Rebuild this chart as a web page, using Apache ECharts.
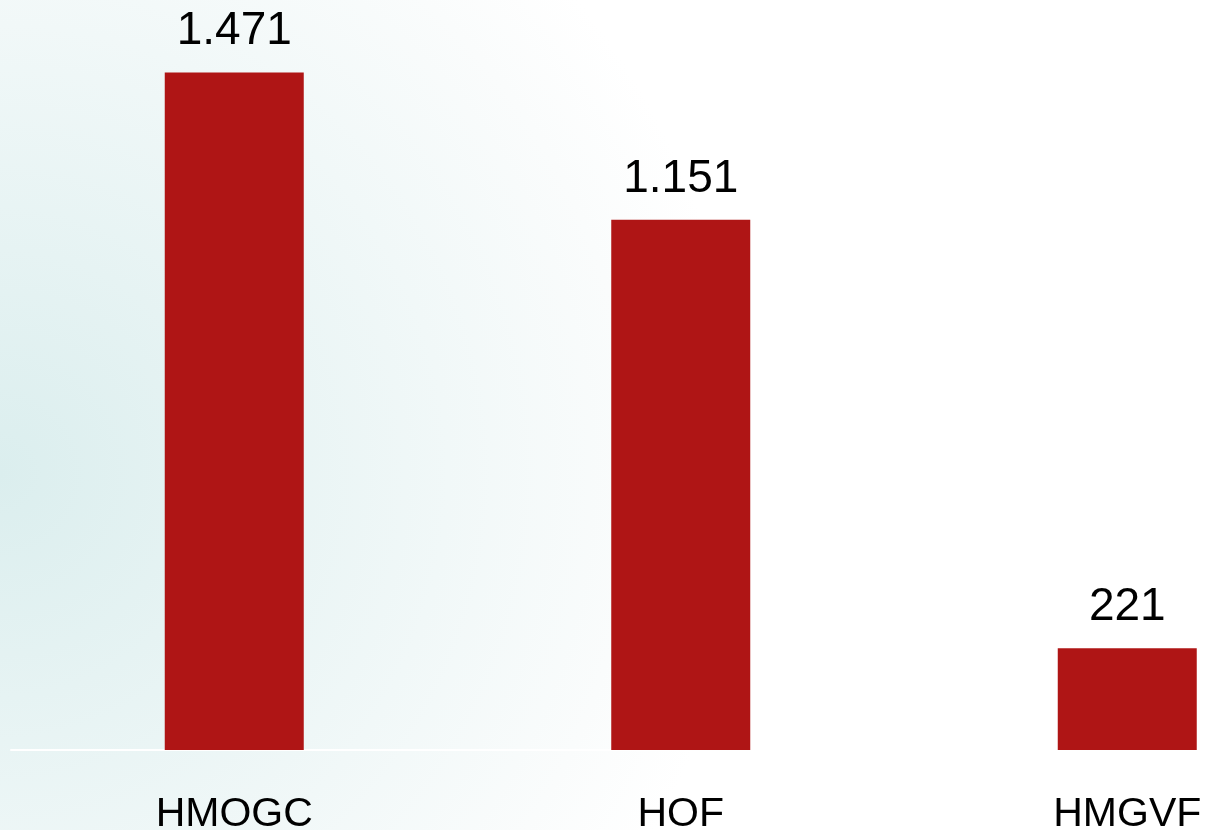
<!DOCTYPE html>
<html>
<head>
<meta charset="utf-8">
<style>
  html, body { margin: 0; padding: 0; background: #fff; }
  #main { width: 1206px; height: 830px; }
</style>
<script src="https://cdn.jsdelivr.net/npm/echarts@6/dist/echarts.min.js"></script>
</head>
<body>
<div id="main"></div>
<script>
// 数据
var categories = ['HMOGC', 'HOF', 'HMGVF'];
var values = [1471, 1151, 221];

// 千位分隔用点号
function fmt(v) {
    return String(v).replace(/\B(?=(\d{3})+(?!\d))/g, '.');
}

var myChart = echarts.init(document.getElementById('main'));
var option = {
    animation: false,
    backgroundColor: {
        type: 'radial',
        x: 0.0,
        y: 0.57,
        r: 0.9,
        colorStops: [
            { offset: 0, color: '#dbeeee' },
            { offset: 0.3, color: '#e6f3f3' },
            { offset: 0.6, color: '#f1f8f8' },
            { offset: 0.85, color: '#fafcfc' },
            { offset: 1, color: '#ffffff' }
        ]
    },
    grid: {
        left: 11,
        right: -144.5,
        top: 13,
        bottom: 80,
        outerBoundsMode: 'none',
        containLabel: false
    },
    xAxis: {
        type: 'category',
        data: categories,
        axisLine: { lineStyle: { color: '#ffffff', width: 2 } },
        axisTick: { show: false },
        axisLabel: {
            margin: 44,
            color: '#000',
            fontSize: 41,
            fontFamily: 'Liberation Sans'
        }
    },
    yAxis: {
        type: 'value',
        min: 0,
        max: 1600,
        show: false,
        splitLine: { show: false }
    },
    series: [{
        type: 'bar',
        data: values,
        barWidth: 139,
        itemStyle: { color: '#af1515' },
        label: {
            show: true,
            position: 'top',
            distance: 18,
            color: '#000',
            fontSize: 46,
            fontFamily: 'Liberation Sans',
            formatter: function (p) { return fmt(p.value); }
        }
    }]
};
myChart.setOption(option);
</script>
</body>
</html>
